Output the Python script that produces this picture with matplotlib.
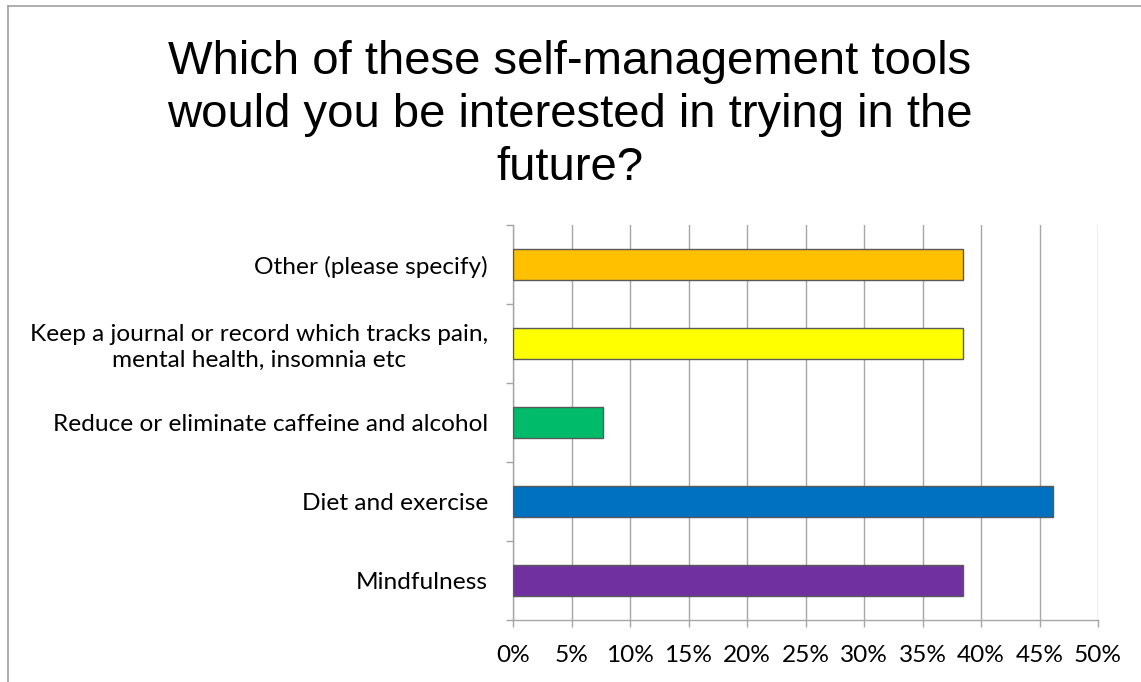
import matplotlib.pyplot as plt
from matplotlib.lines import Line2D
from matplotlib.ticker import FixedLocator, PercentFormatter

# survey responses, bottom to top
tools = ['Mindfulness',
         'Diet and exercise',
         'Reduce or eliminate caffeine and alcohol',
         'Keep a journal or record which tracks pain,\nmental health, insomnia etc',
         'Other (please specify)']
share = [38.46, 46.15, 7.69, 38.46, 38.46]
colors = ['#7030A0', '#0070C0', '#00BB6A', '#FFFF00', '#FFC000']
xticks = [0, 5, 10, 15, 20, 25, 30, 35, 40, 45, 50]

title = 'Which of these self-management tools\nwould you be interested in trying in the\nfuture?'

W, H = 1141, 682
fig = plt.figure(figsize=(W / 100, H / 100), dpi=100)
ax = fig.add_axes([513 / W, 1 - 620 / H, 585 / W, 395 / H])

grey = '#A6A6A6'
label_font = 'Lato'
label_size = 17.6

ypos = list(range(len(tools)))
ax.barh(ypos, share, height=0.4, color=colors, edgecolor='#595959',
        linewidth=1.0, zorder=3)

ax.set_xlim(0, 50)
ax.set_ylim(-0.5, len(tools) - 0.5)
ax.set_xticks(xticks)
ax.xaxis.set_major_formatter(PercentFormatter(decimals=0))
ax.grid(axis='x', color=grey, linewidth=1.0, zorder=0)

# category ticks sit on the boundaries, labels at the bar centres
ax.yaxis.set_major_locator(FixedLocator([i - 0.5 for i in range(len(tools) + 1)]))
ax.yaxis.set_major_formatter(plt.NullFormatter())
ax.set_yticks(ypos, minor=True)
ax.set_yticklabels(tools, minor=True, multialignment='center')
ax.tick_params(axis='y', which='major', length=5, color=grey, width=1.0)
ax.tick_params(axis='y', which='minor', length=0, pad=18,
               labelsize=label_size)
ax.tick_params(axis='x', length=5, color=grey, width=1.0, pad=13,
               labelsize=label_size)
for lab in ax.get_yticklabels(minor=True) + ax.get_xticklabels():
    lab.set_fontfamily(label_font)
    lab.set_linespacing(1.25)

for side in ['top', 'right']:
    ax.spines[side].set_visible(False)
for side in ['left', 'bottom']:
    ax.spines[side].set_color(grey)
    ax.spines[side].set_linewidth(1.0)

fig.text(570 / W, 1 - 115 / H, title, ha='center', va='center',
         fontsize=34, family='Liberation Sans', linespacing=1.26)

# chart area frame (top and left edges)
fig.add_artist(Line2D([8 / W, 1], [1 - 6 / H, 1 - 6 / H], color='#A0A0A0',
                      linewidth=1.2, transform=fig.transFigure))
fig.add_artist(Line2D([8 / W, 8 / W], [0, 1 - 6 / H], color='#A0A0A0',
                      linewidth=1.2, transform=fig.transFigure))

fig.savefig('out.png', dpi=100)
